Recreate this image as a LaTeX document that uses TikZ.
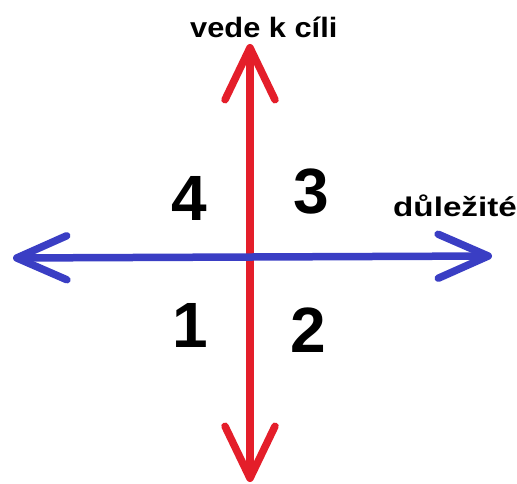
\documentclass[tikz,border=0pt]{standalone}
\usepackage{fontspec}
\setmainfont{Liberation Sans}
\usetikzlibrary{arrows.meta}
\definecolor{axisred}{RGB}{228,30,42}
\definecolor{axisblue}{RGB}{58,62,196}

\begin{document}
\begin{tikzpicture}[x=1pt,y=-1pt,
  axis/.style={line width=7.5pt},
  redtip/.style={{Straight Barb[length=52pt,width=50pt,round]}-{Straight Barb[length=52pt,width=50pt,round]}},
  bluetip/.style={{Straight Barb[length=50pt,width=44pt,round]}-{Straight Barb[length=50pt,width=44pt,round]}},
  lab/.style={font=\fontsize{28}{28}\selectfont\bfseries,anchor=base west,inner sep=0pt},
  num/.style={font=\fontsize{64}{64}\selectfont\bfseries,anchor=base west,inner sep=0pt}]
  \useasboundingbox (0,0) rectangle (517,484);
  % ends of the two axes
  \coordinate (top) at (250,44);
  \coordinate (bottom) at (250,482);
  \coordinate (left) at (13,258);
  \coordinate (right) at (492,256);
  \draw[axis,redtip,axisred] (bottom) -- (top);
  \draw[axis,bluetip,axisblue] (left) -- (right);
  % labels
  \node[lab] (goal) at (190,38) {\scalebox{1.1}[1]{vede k cíli}};
  \node[lab,font=\fontsize{27}{27}\selectfont\bfseries] (important) at (393,216) {\scalebox{1.23}[1]{důležité}};
  % quadrants
  \node[num] (q4) at (171,220) {4};
  \node[num] (q3) at (293,213) {3};
  \node[num] (q1) at (172,347) {1};
  \node[num] (q2) at (290,352) {2};
\end{tikzpicture}
\end{document}
